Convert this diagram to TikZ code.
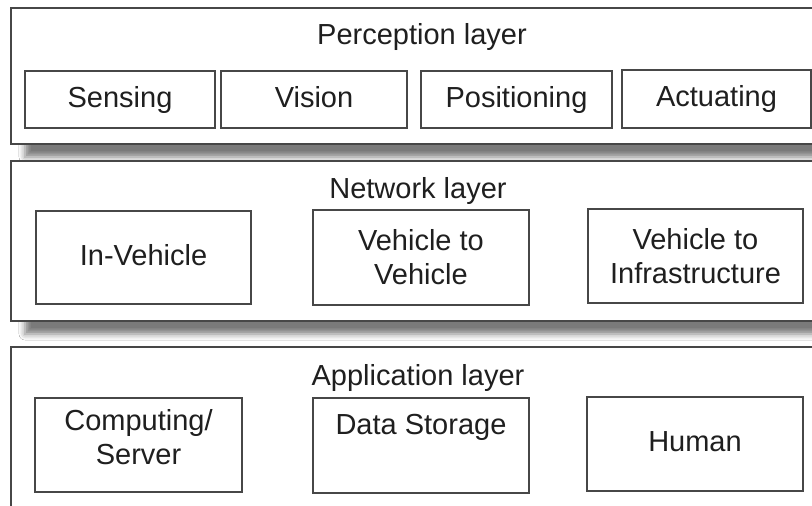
\documentclass[tikz,border=0pt]{standalone}
\usepackage{fontspec}
\setmainfont{Liberation Sans}
\usetikzlibrary{shadows.blur}
\tikzset{
  layerbox/.style={draw=black!72, line width=1.3pt, fill=white, inner sep=0pt,
    blur shadow={shadow xshift=14pt, shadow yshift=-13pt, shadow blur radius=6pt, shadow opacity=52}},
  itembox/.style={draw=black!72, line width=1.2pt, fill=white, inner sep=0pt,
    align=center, text=black!88, font=\fontsize{29}{34}\selectfont},
  oneline/.style={text height=21pt, text depth=6pt},
  layertitle/.style={anchor=base, inner sep=0pt, text=black!88, font=\fontsize{29}{34}\selectfont}
}
\begin{document}
\begin{tikzpicture}[x=1pt,y=-1pt]
\useasboundingbox (0,0) rectangle (812,506);
\clip (0,0) rectangle (812,506);
\fill[white] (0,0) rectangle (812,506);
% layers
\node[layerbox, minimum width=830pt, minimum height=136pt] (perc) at (426,76) {};
\node[layerbox, minimum width=830pt, minimum height=160pt] (netw) at (426,241) {};
\node[layerbox, minimum width=830pt, minimum height=200pt] (appl) at (426,447) {};
% titles
\node[layertitle] (perct) at (422,44) {Perception layer};
\node[layertitle] (netwt) at (418,198) {Network layer};
\node[layertitle] (applt) at (418,385) {Application layer};
% perception items
\node[itembox, oneline, minimum width=190pt, minimum height=57pt] (sens) at (120,99.5) {Sensing};
\node[itembox, oneline, minimum width=186pt, minimum height=57pt] (visi) at (314,99.5) {Vision};
\node[itembox, oneline, minimum width=191pt, minimum height=57pt] (posi) at (516.5,99.5) {Positioning};
\node[itembox, oneline, minimum width=189pt, minimum height=58pt] (actu) at (716.5,99) {Actuating};
% network items
\node[itembox, oneline, minimum width=215pt, minimum height=93pt] (inveh) at (143.5,257.5) {In-Vehicle};
\node[itembox, minimum width=216pt, minimum height=95pt] (vtov) at (421,257.5) {Vehicle to\\Vehicle};
\node[itembox, minimum width=215pt, minimum height=94pt] (vtoi) at (695.5,256) {Vehicle to\\Infrastructure};
% application items
\node[itembox, minimum width=207pt, minimum height=94pt, text depth=17pt] (comp) at (138.5,445) {Computing/\\Server};
\node[itembox, minimum width=216pt, minimum height=95pt, text depth=8pt] (data) at (421,445.5) {Data Storage\\\mbox{}};
\node[itembox, oneline, minimum width=216pt, minimum height=94pt] (huma) at (695,444) {Human};
\end{tikzpicture}
\end{document}
